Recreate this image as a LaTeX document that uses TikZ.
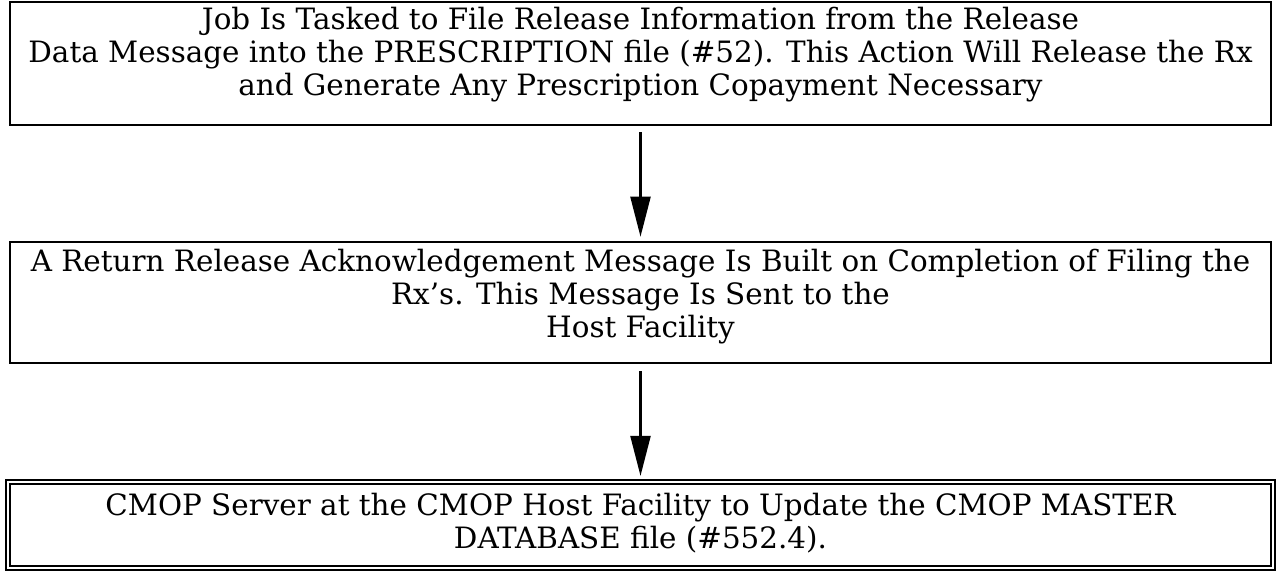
\documentclass[tikz,border=0pt]{standalone}
\usepackage{fontspec}
\setmainfont{DejaVu Serif}
\usetikzlibrary{arrows.meta}
\tikzset{
  box/.style={draw, line width=1.3pt, rectangle, inner sep=0pt},
  dbox/.style={draw, double, double distance=1pt, line width=1.1pt, rectangle, inner sep=0pt},
  txt/.style={align=center, inner sep=0pt, font=\fontsize{14.7pt}{16.5pt}\selectfont},
  flow/.style={line width=1.1pt, -{Triangle[length=20pt,width=10pt]}}
}
\begin{document}
\begin{tikzpicture}[x=0.5pt,y=-0.5pt]
\useasboundingbox (0,0) rectangle (1276,571);
\node[box, minimum width=630.5pt, minimum height=61.5pt] (b1) at (640.5,63.5) {};
\node[box, minimum width=630.5pt, minimum height=60.5pt] (b2) at (640.5,302.5) {};
\node[dbox, minimum width=632.5pt, minimum height=43pt] (b3) at (640.5,525) {};
\node[txt] (t1) at (640.5,55) {Job Is Tasked to File Release Information from the Release\\Data Message into the PRESCRIPTION file (\#52). This Action Will Release the Rx\\and Generate Any Prescription Copayment Necessary};
\node[txt] (t2) at (640.5,297) {A Return Release Acknowledgement Message Is Built on Completion of Filing the\\Rx’s. This Message Is Sent to the\\Host Facility};
\node[txt] (t3) at (640.5,523.5) {CMOP Server at the CMOP Host Facility to Update the CMOP MASTER\\DATABASE file (\#552.4).};
\draw[flow, shorten <=3pt, shorten >=2pt] (b1.south) -- (b2.north);
\draw[flow, shorten <=3.5pt, shorten >=2.5pt] (b2.south) -- (b3.north);
\end{tikzpicture}
\end{document}
